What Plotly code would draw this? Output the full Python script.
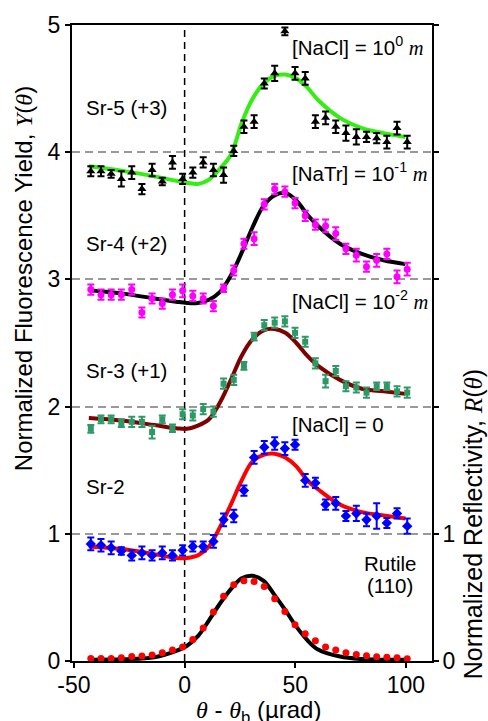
import plotly.graph_objects as go

# ---------------- data ----------------
theta = [-42.4, -37.8, -33.2, -28.6, -23.9, -19.3, -14.7, -10.1, -5.5, -0.9,
         3.7, 8.4, 13.0, 17.6, 22.2, 26.8, 31.4, 36.0, 40.7, 45.3,
         49.9, 54.5, 59.1, 63.7, 68.3, 72.9, 77.6, 82.2, 86.8, 91.4, 96.0, 100.6]

sr5 = [3.85, 3.85, 3.83, 3.79, 3.84, 3.71, 3.86, 3.77, 3.92, 3.79,
       3.84, 3.92, 3.86, 3.82, 4.01, 4.20, 4.24, 4.54, 4.62, 4.95,
       4.62, 4.58, 4.24, 4.27, 4.20, 4.15, 4.12, 4.12, 4.11, 4.08, 4.19, 4.08]
sr5_err = [0.04, 0.04, 0.03, 0.06, 0.05, 0.04, 0.05, 0.03, 0.05, 0.04,
           0.04, 0.04, 0.05, 0.06, 0.04, 0.05, 0.05, 0.04, 0.06, 0.03,
           0.05, 0.05, 0.05, 0.05, 0.05, 0.06, 0.06, 0.04, 0.04, 0.05, 0.05, 0.05]

sr4 = [2.92, 2.88, 2.88, 2.88, 2.92, 2.74, 2.85, 2.81, 2.88, 2.91,
       2.87, 2.85, 2.79, 2.93, 3.07, 3.28, 3.32, 3.59, 3.71, 3.69,
       3.60, 3.50, 3.43, 3.42, 3.36, 3.24, 3.19, 3.10, 3.15, 3.20, 3.02, 3.08]
sr4_err = [0.04, 0.04, 0.04, 0.04, 0.04, 0.04, 0.04, 0.04, 0.04, 0.05,
           0.04, 0.04, 0.04, 0.03, 0.04, 0.04, 0.05, 0.04, 0.04, 0.04,
           0.04, 0.04, 0.04, 0.05, 0.05, 0.04, 0.05, 0.04, 0.05, 0.04, 0.05, 0.05]

sr3 = [1.825, 1.90, 1.90, 1.87, 1.88, 1.88, 1.80, 1.90, 1.83, 1.94,
       1.93, 1.98, 1.96, 2.18, 2.21, 2.32, 2.55, 2.64, 2.66, 2.67,
       2.58, 2.51, 2.34, 2.20, 2.28, 2.16, 2.15, 2.11, 2.16, 2.16, 2.12, 2.11]
sr3_err = [0.03, 0.03, 0.03, 0.03, 0.04, 0.04, 0.05, 0.03, 0.03, 0.04,
           0.04, 0.04, 0.04, 0.04, 0.04, 0.03, 0.03, 0.04, 0.04, 0.04,
           0.04, 0.04, 0.04, 0.05, 0.04, 0.04, 0.04, 0.04, 0.03, 0.03, 0.04, 0.04]

sr2 = [0.92, 0.91, 0.89, 0.865, 0.83, 0.85, 0.83, 0.85, 0.83, 0.87,
       0.90, 0.90, 0.94, 1.11, 1.14, 1.34, 1.60, 1.68, 1.71, 1.67,
       1.70, 1.42, 1.40, 1.23, 1.24, 1.14, 1.16, 1.11, 1.14, 1.085, 1.16, 1.06]
sr2_err = [0.05, 0.05, 0.05, 0.03, 0.04, 0.05, 0.04, 0.05, 0.04, 0.04,
           0.04, 0.04, 0.05, 0.05, 0.05, 0.04, 0.05, 0.05, 0.05, 0.05,
           0.04, 0.05, 0.04, 0.04, 0.05, 0.04, 0.06, 0.05, 0.10, 0.04, 0.04, 0.06]

rutile = [0.02, 0.02, 0.02, 0.025, 0.035, 0.04, 0.047, 0.065, 0.086, 0.11,
          0.17, 0.26, 0.385, 0.51, 0.60, 0.63, 0.625, 0.585, 0.49, 0.39,
          0.285, 0.215, 0.16, 0.11, 0.086, 0.065, 0.052, 0.041, 0.034, 0.029, 0.025, 0.018]

# fitted / theoretical curves, read at these angles
theta_fit = [-43.3, -28.5, -13.7, -3.8, 1.1, 6.0, 11.0, 15.9, 20.9, 25.8, 30.7,
             35.7, 40.6, 45.5, 50.5, 55.4, 60.3, 70.2, 80.1, 89.9, 99.8]
fit5 = [3.89, 3.855, 3.81, 3.775, 3.76, 3.75, 3.785, 3.87, 3.98, 4.23, 4.42,
        4.54, 4.60, 4.61, 4.58, 4.51, 4.41, 4.27, 4.19, 4.15, 4.12]
fit4 = [2.915, 2.89, 2.85, 2.825, 2.815, 2.815, 2.84, 2.90, 3.03, 3.21, 3.41,
        3.58, 3.66, 3.68, 3.62, 3.51, 3.42, 3.28, 3.20, 3.15, 3.12]
fit3 = [1.91, 1.89, 1.855, 1.83, 1.825, 1.85, 1.90, 2.03, 2.21, 2.40, 2.53,
        2.60, 2.61, 2.58, 2.50, 2.40, 2.32, 2.21, 2.14, 2.12, 2.10]
fit2 = [0.90, 0.88, 0.84, 0.81, 0.81, 0.83, 0.90, 1.05, 1.23, 1.42, 1.57,
        1.62, 1.63, 1.60, 1.53, 1.42, 1.35, 1.23, 1.17, 1.145, 1.12]
fit_r = [0.01, 0.013, 0.03, 0.08, 0.12, 0.195, 0.32, 0.45, 0.565, 0.65, 0.67,
         0.63, 0.52, 0.40, 0.27, 0.165, 0.09, 0.035, 0.015, 0.01, 0.01]

x_ticks = [-50, 0, 50, 100]
x_ticktext = ["-50", "0", "50", "100"]
y_ticks = [0, 1, 2, 3, 4, 5]
r_ticks = [0, 1]

# ---------------- figure ----------------
SANS = "Liberation Sans, Arial, sans-serif"

def it(s):
    return "<span style='font-family:Liberation Serif'><i>%s</i></span>" % s

fig = go.Figure()

curves = [(fit5, "#33ee11"), (fit4, "black"), (fit3, "#800000"), (fit2, "#ff0000")]
for ys, col in curves:
    fig.add_trace(go.Scatter(x=theta_fit, y=ys, mode="lines",
                             line=dict(color=col, width=4, shape="spline", smoothing=1.0),
                             showlegend=False, hoverinfo="skip"))
fig.add_trace(go.Scatter(x=theta_fit, y=fit_r, mode="lines", yaxis="y2",
                         line=dict(color="black", width=4, shape="spline", smoothing=1.0),
                         showlegend=False, hoverinfo="skip"))

series = [
    (sr5, sr5_err, "black", "triangle-up", 8),
    (sr4, sr4_err, "#ff00ff", "circle", 7),
    (sr3, sr3_err, "#2e9966", "square", 6),
    (sr2, sr2_err, "#0000ff", "diamond", 8),
]
for ys, es, col, sym, sz in series:
    fig.add_trace(go.Scatter(x=theta, y=ys, mode="markers",
                             marker=dict(color=col, symbol=sym, size=sz),
                             error_y=dict(type="data", array=es, visible=True,
                                          color=col, thickness=2, width=3.5),
                             showlegend=False))
fig.add_trace(go.Scatter(x=theta, y=rutile, mode="markers", yaxis="y2",
                         marker=dict(color="#ff0000", size=7),
                         showlegend=False, cliponaxis=False))

# vertical dashed line at theta_b
fig.add_shape(type="line", x0=0, x1=0, xref="x", y0=0, y1=1, yref="paper",
              line=dict(color="black", width=1.5, dash="7px,5px"), layer="below")

ann = [
    ("Sr-5 (+3)", 0.0333, 0.8707, "left"),
    ("Sr-4 (+2)", 0.0333, 0.6558, "left"),
    ("Sr-3 (+1)", 0.0333, 0.4564, "left"),
    ("Sr-2", 0.0333, 0.2741, "left"),
    ("[NaCl] = 10<sup>0</sup> " + it("m"), 0.6056, 0.967, "left"),
    ("[NaTr] = 10<sup>-1</sup> " + it("m"), 0.6056, 0.7695, "left"),
    ("[NaCl] = 10<sup>-2</sup> " + it("m"), 0.6056, 0.567, "left"),
    ("[NaCl] = 0", 0.6056, 0.372, "left"),
    ("Rutile", 0.883, 0.153, "center"),
    ("(110)", 0.883, 0.119, "center"),
]
for txt, x, y, xa in ann:
    fig.add_annotation(text=txt, x=x, y=y, xref="paper", yref="paper",
                       xanchor=xa, yanchor="middle", align="center", showarrow=False,
                       font=dict(family=SANS, size=20.5, color="black"))

# axis titles
fig.add_annotation(text="Normalized Fluorescence Yield, " + it("Y") + "(" + it("θ") + ")",
                   x=-0.135, y=0.601, xref="paper", yref="paper", textangle=-90,
                   showarrow=False, xanchor="center", yanchor="middle",
                   font=dict(family=SANS, size=24, color="black"))
fig.add_annotation(text="Normalized Reflectivity, " + it("R") + "(" + it("θ") + ")",
                   x=1.114, y=0.215, xref="paper", yref="paper", textangle=-90,
                   showarrow=False, xanchor="center", yanchor="middle",
                   font=dict(family=SANS, size=25, color="black"))
fig.add_annotation(text=it("θ") + " - " + it("θ") + "<sub>b</sub> (µrad)",
                   x=0.517, y=-0.079, xref="paper", yref="paper",
                   showarrow=False, xanchor="center", yanchor="middle",
                   font=dict(family=SANS, size=24, color="black"))

axis_common = dict(showline=True, linecolor="black", linewidth=2,
                   ticks="outside", ticklen=5, tickwidth=2, tickcolor="black",
                   tickfont=dict(family=SANS, size=23, color="black"))

fig.update_layout(
    width=488, height=721,
    margin=dict(l=72, r=56, t=19, b=60),
    paper_bgcolor="white", plot_bgcolor="white",
    xaxis=dict(range=[-50.9, 111.8], tickvals=x_ticks, ticktext=x_ticktext,
               showgrid=False, zeroline=False, mirror=True,
               ticklabelstandoff=-3, **axis_common),
    yaxis=dict(range=[0, 5], tickvals=y_ticks, showgrid=True,
               gridcolor="#999999", gridwidth=1.5, griddash="8px,5px",
               zeroline=False, mirror="allticks", **axis_common),
    yaxis2=dict(range=[0, 5], tickvals=r_ticks, overlaying="y", side="right",
                showgrid=False, zeroline=False, showline=False,
                ticks="outside", ticklen=5, tickwidth=2, tickcolor="black",
                tickfont=dict(family=SANS, size=23, color="black")),
)

fig.write_html("out.html")
